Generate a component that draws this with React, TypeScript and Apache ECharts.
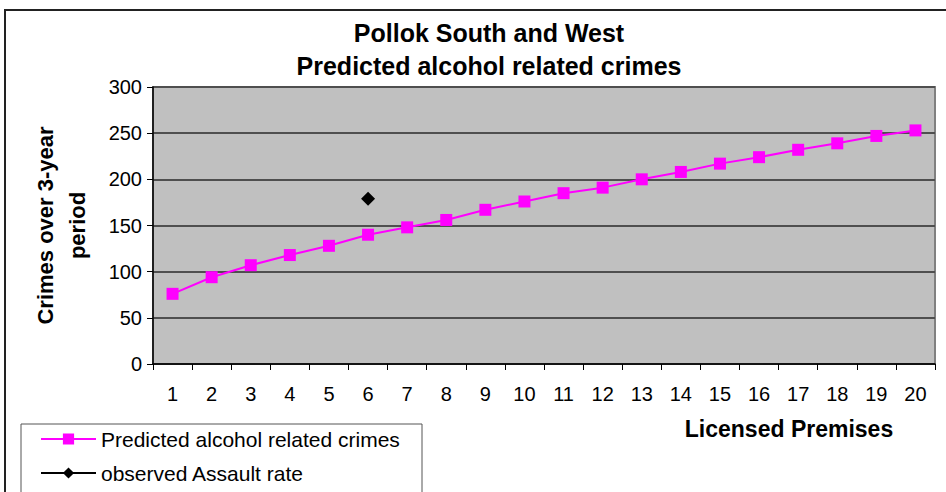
import React, { useEffect, useRef } from "react";
import * as echarts from "echarts";

const categories = ["1","2","3","4","5","6","7","8","9","10","11","12","13","14","15","16","17","18","19","20"];
const predicted = [76, 94, 107, 118, 128, 140, 148, 156, 167, 176, 185, 191, 200, 208, 217, 224, 232, 239, 247, 253];
const observed = [null, null, null, null, null, 179, null, null, null, null, null, null, null, null, null, null, null, null, null, null];
const yTicks = { min: 0, max: 300, interval: 50 };

const FONT = '"Liberation Sans", Arial, sans-serif';

export default function App() {
  const ref = useRef<HTMLDivElement>(null);
  useEffect(() => {
    if (!ref.current) return;
    const chart = echarts.init(ref.current, null, { renderer: "svg" });
    chart.setOption({
      animation: false,
      backgroundColor: "#ffffff",
      textStyle: { fontFamily: FONT },
      title: {
        text: "Pollok South and West\nPredicted alcohol related crimes",
        left: 484,
        textAlign: "center",
        top: 11,
        textStyle: { fontSize: 25, fontWeight: "bold", color: "#000", lineHeight: 33, fontFamily: FONT },
      },
      grid: {
        left: 153,
        top: 87,
        right: 11,
        bottom: 128,
        show: true,
        backgroundColor: "#C0C0C0",
        borderColor: "#808080",
        borderWidth: 2,
      },
      legend: {
        orient: "vertical",
        left: 21,
        top: 424,
        padding: [4, 17, 0, 19],
        itemWidth: 55,
        itemHeight: 14,
        itemGap: 12,
        textStyle: { fontSize: 21, color: "#000", lineHeight: 22, fontFamily: FONT },
        data: ["Predicted alcohol related crimes", "observed Assault rate"],
      },
      xAxis: {
        type: "category",
        data: categories,
        boundaryGap: true,
        axisLine: { lineStyle: { color: "#000", width: 1.5 } },
        axisTick: { show: true, length: 6, lineStyle: { color: "#000" } },
        axisLabel: { fontSize: 20, color: "#000", margin: 20, interval: 0, fontFamily: FONT },
        splitLine: { show: false },
      },
      yAxis: {
        type: "value",
        min: yTicks.min,
        max: yTicks.max,
        interval: yTicks.interval,
        name: "Crimes over 3-year\nperiod",
        nameLocation: "middle",
        nameRotate: 90,
        nameGap: 60,
        nameTextStyle: { fontSize: 22, fontWeight: "bold", color: "#000", lineHeight: 32, fontFamily: FONT },
        axisLine: { show: true, lineStyle: { color: "#000", width: 1.5 } },
        axisTick: { show: true, length: 6, lineStyle: { color: "#000" } },
        axisLabel: { fontSize: 20, color: "#000", margin: 11, fontFamily: FONT },
        splitLine: { show: true, lineStyle: { color: "#4f4f4f", width: 2 } },
      },
      graphic: [
        {
          type: "rect",
          z: -10,
          shape: { x: 5, y: 10, width: 1000, height: 1000 },
          style: { fill: "none", stroke: "#222", lineWidth: 2 },
        },
        {
          type: "rect",
          z: 3,
          shape: { x: 21, y: 424, width: 401, height: 200 },
          style: { fill: "#fff", stroke: "#555", lineWidth: 1 },
        },
        {
          type: "text",
          x: 789,
          y: 429,
          style: {
            text: "Licensed Premises",
            fontSize: 23,
            fontWeight: "bold",
            fill: "#000",
            align: "center",
            verticalAlign: "middle",
            fontFamily: FONT,
          },
        },
      ],
      series: [
        {
          name: "Predicted alcohol related crimes",
          type: "line",
          data: predicted,
          symbol: "rect",
          symbolSize: 12,
          itemStyle: { color: "#FF00FF" },
          lineStyle: { color: "#FF00FF", width: 2 },
        },
        {
          name: "observed Assault rate",
          type: "line",
          data: observed,
          symbol: "diamond",
          symbolSize: 14,
          itemStyle: { color: "#000" },
          lineStyle: { color: "#000", width: 2 },
        },
      ],
    });
    return () => chart.dispose();
  }, []);
  return (
    <div
      ref={ref}
      style={{ position: "fixed", left: 0, top: 0, width: 946, height: 492 }}
    />
  );
}
